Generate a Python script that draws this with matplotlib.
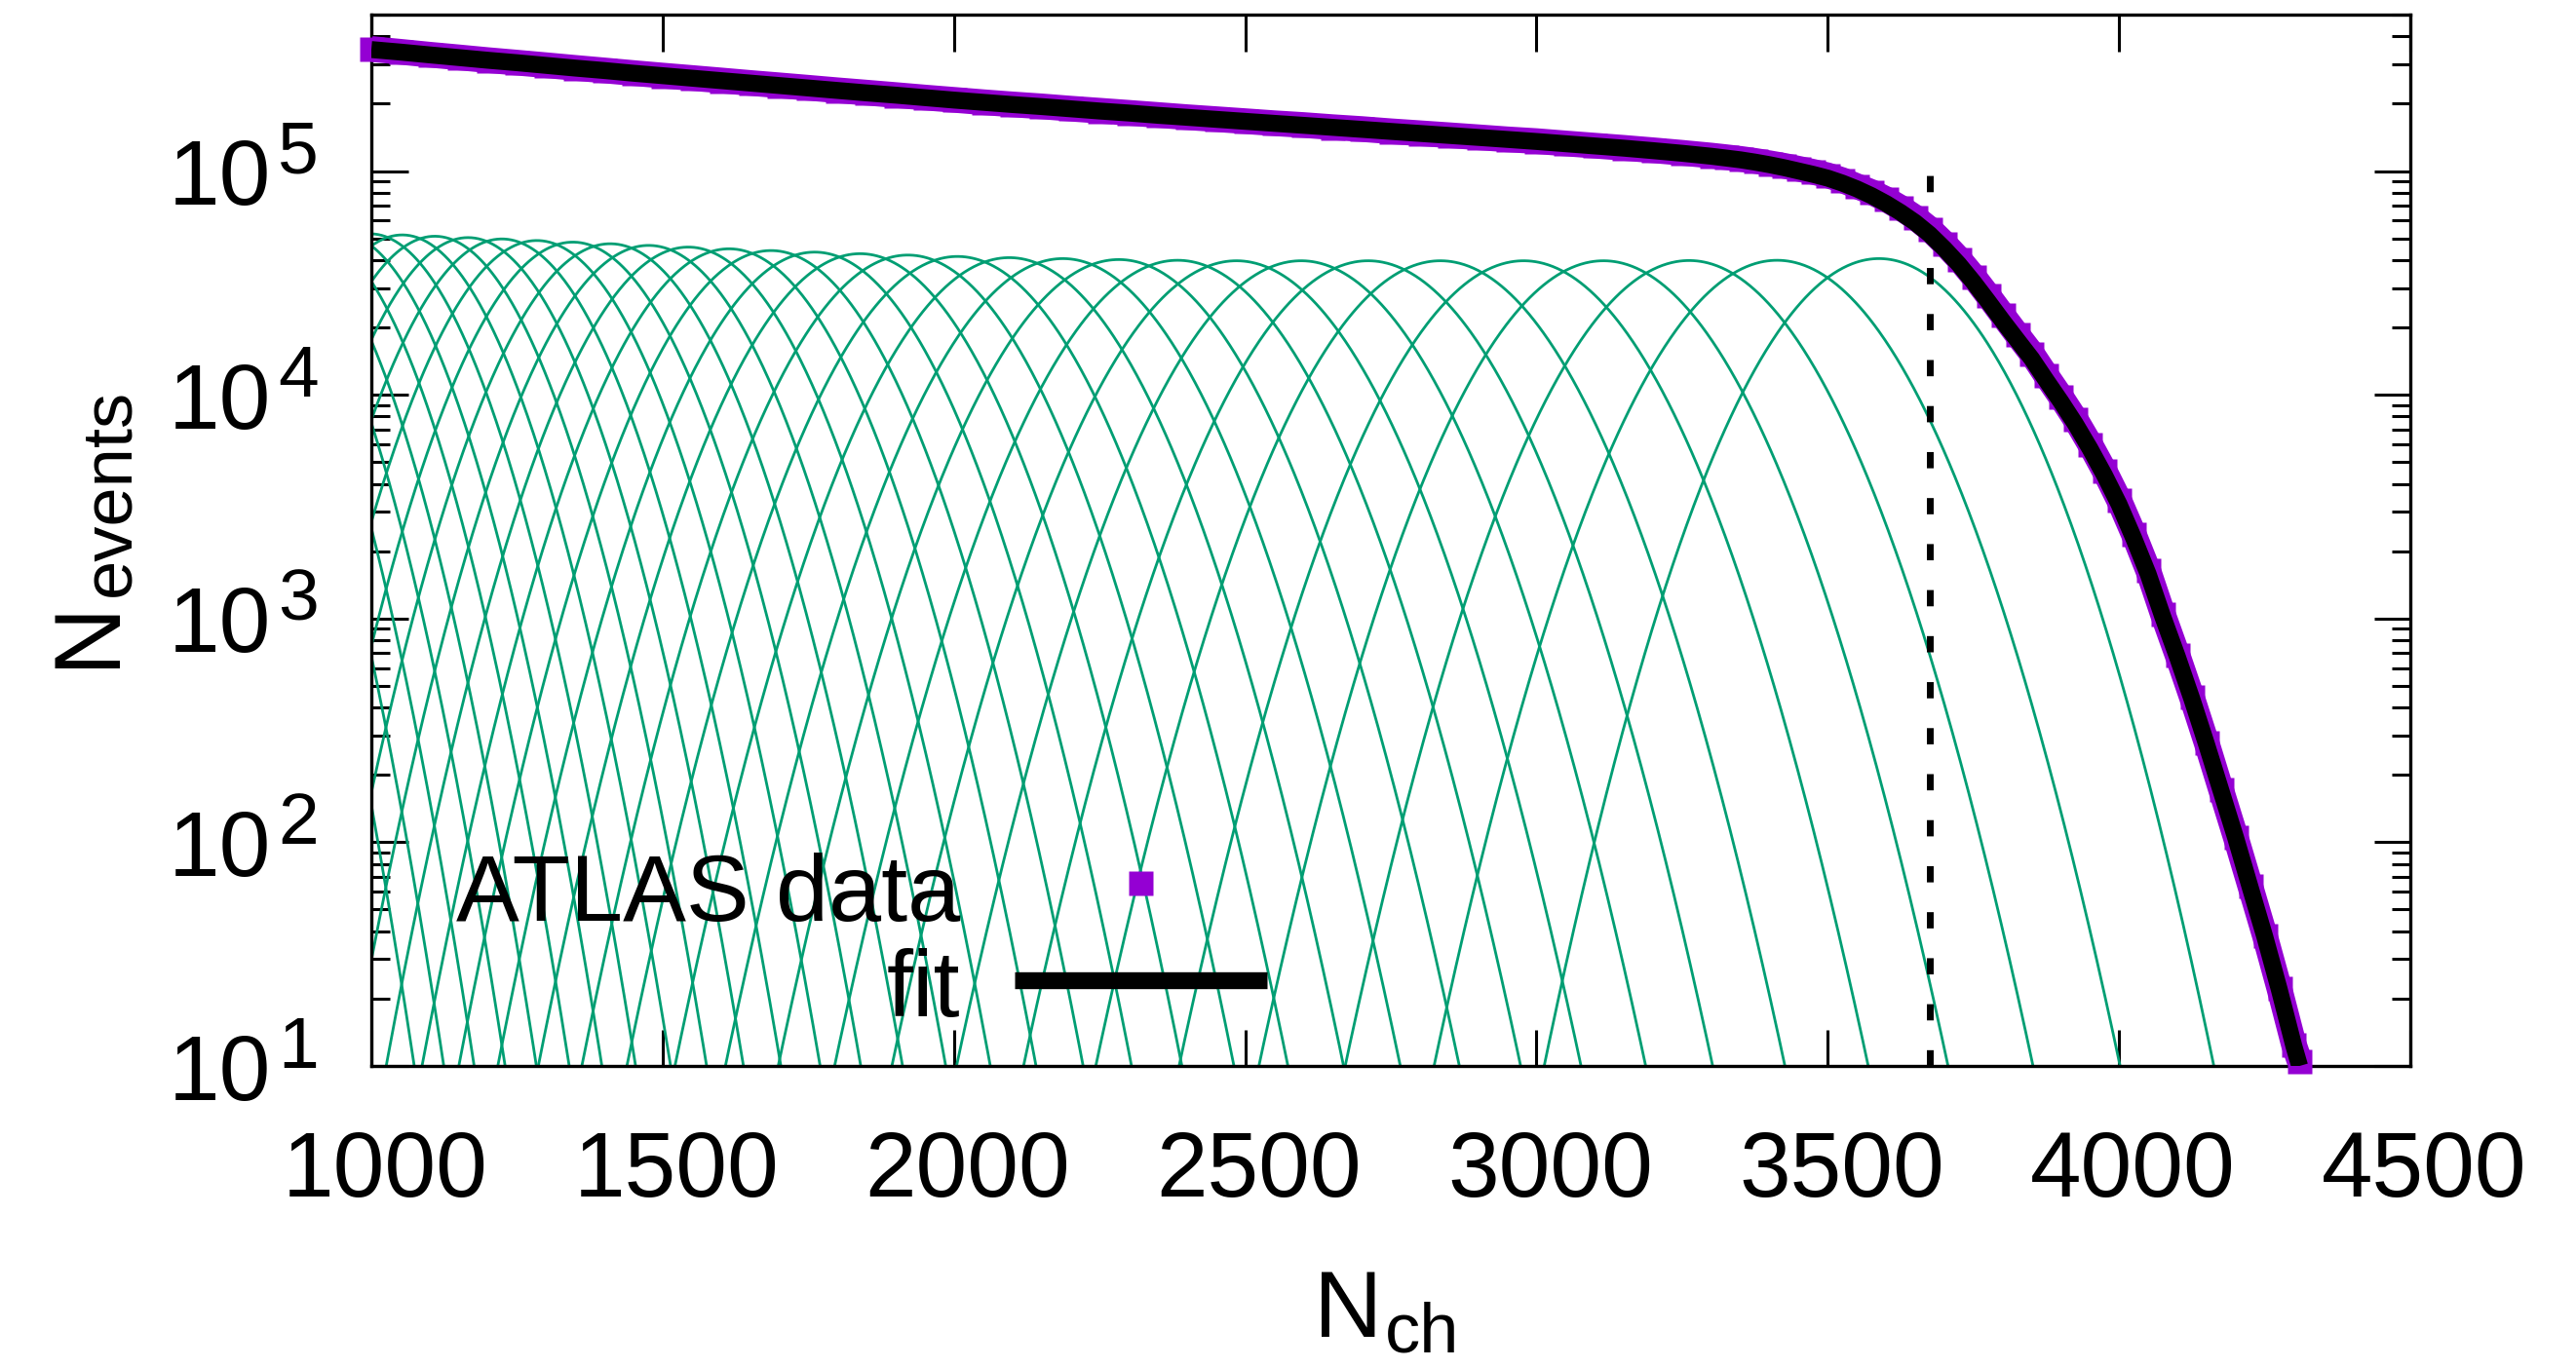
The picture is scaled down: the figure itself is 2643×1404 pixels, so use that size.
import numpy as np
import matplotlib
matplotlib.use("Agg")
import matplotlib.pyplot as plt
import matplotlib.transforms as mtransforms
from matplotlib.ticker import LogLocator, FixedLocator, FixedFormatter, NullFormatter

plt.rcParams['font.family'] = 'Liberation Sans'

# -----------------------------
# Data
# -----------------------------
n_ch = [1000, 1050, 1100, 1150, 1200, 1250, 1300, 1350, 1400, 1450,
        1500, 1550, 1600, 1650, 1700, 1750, 1800, 1850, 1900, 1950,
        2000, 2050, 2100, 2150, 2200, 2250, 2300, 2350, 2400, 2450,
        2500, 2550, 2600, 2650, 2700, 2750, 2800, 2850, 2900, 2950,
        3000, 3050, 3100, 3150, 3200, 3250, 3300, 3325, 3350, 3375,
        3400, 3425, 3450, 3475, 3500, 3525, 3550, 3575, 3600, 3625,
        3650, 3675, 3700, 3725, 3750, 3775, 3800, 3825, 3850, 3875,
        3900, 3925, 3950, 3975, 4000, 4025, 4050, 4075, 4100, 4125,
        4150, 4175, 4200, 4225, 4250, 4275, 4300, 4310]

fit_events = [349000, 340000, 330400, 321400, 312600, 304800, 296500, 288400, 281200, 273500,
              266700, 260000, 253500, 247200, 241000, 235000, 229100, 223400, 218300, 212800,
              207500, 202800, 198200, 194100, 189700, 185400, 181600, 177400, 173800, 170200,
              166700, 163300, 160000, 156700, 153500, 150300, 147200, 144200, 141300, 138400,
              135500, 132400, 129400, 126500, 123300, 120000, 116400, 114300, 112200, 109600,
              106700, 103500, 100000, 96600, 92900, 88300, 83200, 77600, 71600, 65300,
              58900, 52100, 45000, 38300, 31900, 26200, 21400, 17600, 14500, 11600,
              9330, 7410, 5750, 4370, 3240, 2290, 1580, 1020, 676, 437,
              275, 170, 105, 63, 38, 22, 12.3, 10]

atlas_events = [351000, 341000, 331000, 322000, 313000, 305000, 297000, 289000, 281500, 274000,
                267000, 260500, 254000, 247500, 241500, 235500, 229500, 224000, 218500, 213000,
                208000, 203000, 198500, 194500, 190000, 186000, 182000, 178000, 174000, 170500,
                167000, 163500, 160500, 157000, 154000, 150500, 147500, 144500, 141500, 138500,
                136000, 132800, 129800, 126900, 123800, 120600, 117200, 115300, 113300, 111000,
                108300, 105500, 102300, 99100, 95600, 91000, 85500, 80500, 74800, 68500,
                62000, 55000, 47500, 40500, 33800, 27800, 22700, 18600, 15300, 12200,
                9800, 7780, 6020, 4570, 3380, 2390, 1640, 1050, 690, 445,
                280, 172, 106, 64, 38.5, 22.3, 12.5, 10.5]

# gaussian components (centre, peak height, width)
comp_centers = [641, 689, 738, 788, 839, 891, 944, 998, 1053, 1109,
                1166, 1224, 1284, 1346, 1410, 1476, 1544, 1614, 1686, 1761,
                1839, 1921, 2006, 2095, 2187, 2283, 2384, 2485, 2596, 2711,
                2835, 2978, 3115, 3262, 3413, 3588]
comp_heights = [55400, 55000, 54600, 54200, 53800, 53300, 52900, 52400, 51800, 51100,
                50400, 49700, 48900, 48100, 47300, 46500, 45700, 44900, 44100, 43400,
                42700, 42100, 41500, 41000, 40600, 40200, 39900, 39700, 39700, 39700,
                39700, 39700, 39700, 39800, 39900, 40600]
comp_widths = [104.2, 104.9, 105.7, 106.5, 107.2, 108.3, 109.1, 110.1, 111.4, 112.9,
               114.5, 116.1, 118.0, 120.0, 122.0, 124.1, 126.3, 128.5, 130.8, 132.9,
               135.1, 137.0, 139.0, 140.7, 142.1, 143.5, 144.6, 145.3, 145.3, 145.3,
               145.3, 145.3, 145.3, 145.0, 144.6, 141.0]

cut_nch = 3675
cut_range = [10, 1e5]

x_ticks = [1000, 1500, 2000, 2500, 3000, 3500, 4000, 4500]
y_exponents = [1, 2, 3, 4, 5]

# -----------------------------
# Plot
# -----------------------------
W, H = 2643, 1404
PX = 72 / 100  # points per pixel at dpi 100
fig = plt.figure(figsize=(W / 100, H / 100), dpi=100)
ax = fig.add_axes([381 / W, 1 - 1094 / H, 2092 / W, 1079 / H])

grid = np.linspace(1000, 4500, 1751)
for c, h, s in zip(comp_centers, comp_heights, comp_widths):
    ax.plot(grid, h * np.exp(-0.5 * ((grid - c) / s) ** 2), color='#009e73', lw=2.0, zorder=2)

ax.plot([cut_nch, cut_nch], cut_range, color='black', lw=5, dashes=(2.4, 4.4), zorder=3)

ax.plot(n_ch, atlas_events, color='#9400d3', lw=19, solid_capstyle='butt', zorder=4)
ax.plot(n_ch, atlas_events, 's', color='#9400d3', ms=18, mec='none', clip_on=False, zorder=4)
ax.plot(n_ch, fit_events, color='black', lw=12.5, solid_capstyle='butt', zorder=5)

ax.set_yscale('log')
ax.set_xlim(1000, 4500)
ax.set_ylim(10, 5e5)
ax.set_xticks(x_ticks)

# y labels gnuplot style: "10" plus a large exponent
y_major = [10.0 ** e for e in y_exponents]
ax.yaxis.set_major_locator(FixedLocator(y_major))
ax.yaxis.set_major_formatter(FixedFormatter(['10'] * len(y_major)))
ax.yaxis.set_minor_locator(LogLocator(base=10, subs=range(2, 10), numticks=20))
ax.yaxis.set_minor_formatter(NullFormatter())
for e in y_exponents:
    ax.annotate(str(e), xy=(0, 10.0 ** e), xycoords=('axes fraction', 'data'),
                xytext=(-96 * PX, -2 * PX), textcoords='offset points',
                fontsize=54, ha='left', va='baseline', annotation_clip=False)

ax.tick_params(axis='both', which='major', direction='in', length=27, width=2.2,
               top=True, right=True, labelsize=68)
ax.tick_params(axis='x', which='major', pad=47)
ax.tick_params(axis='y', which='major', pad=74)
ax.tick_params(axis='y', which='minor', direction='in', length=14, width=2.2, right=True)
for sp in ax.spines.values():
    sp.set_linewidth(2.4)

# gnuplot puts the x labels a little right of the ticks
shift = mtransforms.ScaledTranslation(14 / 100, 0, fig.dpi_scale_trans)
for lab in ax.get_xticklabels():
    lab.set_transform(lab.get_transform() + shift)

# axis labels (gnuplot-style subscripts)
fig.text(1348 / W, 1 - 1372 / H, 'N', fontsize=70, ha='left', va='baseline')
fig.text(1421 / W, 1 - 1388 / H, 'ch', fontsize=52, ha='left', va='baseline')
fig.text(116 / W, 1 - 685 / H, 'N', fontsize=70, rotation=90, rotation_mode='anchor',
         ha='left', va='baseline')
fig.text(132 / W, 1 - 612 / H, 'events', fontsize=52, rotation=90, rotation_mode='anchor',
         ha='left', va='baseline')

# key
fig.text(985 / W, 1 - 945 / H, 'ATLAS data', fontsize=70, ha='right', va='baseline', zorder=6)
fig.text(985 / W, 1 - 1043 / H, 'fit', fontsize=70, ha='right', va='baseline', zorder=6)
key = fig.add_axes([0, 0, 1, 1], facecolor='none')
key.set_xlim(0, W)
key.set_ylim(H, 0)
key.axis('off')
key.plot([1170], [906], 's', color='#9400d3', ms=18, mec='none')
key.plot([1041, 1300], [1006, 1006], color='black', lw=12.5, solid_capstyle='butt')

fig.savefig('out.png', dpi=100)
